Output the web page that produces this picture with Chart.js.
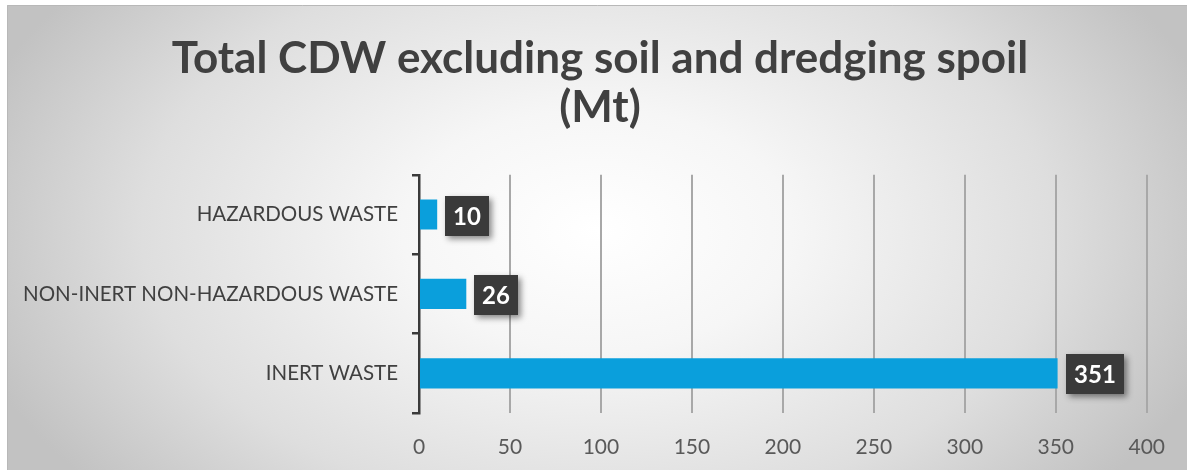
<!DOCTYPE html>
<html>
<head>
<meta charset="utf-8">
<script src="https://cdn.jsdelivr.net/npm/chart.js@4.4.1/dist/chart.umd.min.js"></script>
<style>
  html, body { margin: 0; padding: 0; background: #ffffff; overflow: hidden; }
  #wrap { width: 1187px; height: 470px; position: relative; }
</style>
</head>
<body>
<div id="wrap"><canvas id="chart" width="1187" height="470"></canvas></div>
<script>
// Waste streams (top to bottom) and their tonnage in Mt
const categories = ['HAZARDOUS WASTE', 'NON-INERT NON-HAZARDOUS WASTE', 'INERT WASTE'];
const values = [10, 26, 351];
const xTickValues = [0, 50, 100, 150, 200, 250, 300, 350, 400];
const titleLines = ['Total CDW excluding soil and dredging spoil', '(Mt)'];

const FONT = 'Lato, "Open Sans", sans-serif';

// Framed panel with a soft radial grey fill
const panelBackground = {
  id: 'panelBackground',
  beforeDraw(chart) {
    const ctx = chart.ctx;
    const W = chart.width, H = chart.height;
    const x0 = 7, y0 = 5;
    ctx.save();
    ctx.fillStyle = '#ffffff';
    ctx.fillRect(0, 0, W, H);
    const cx = 597, cy = 230;
    const sy = 0.62;
    ctx.beginPath();
    ctx.rect(x0, y0, W - x0, H - y0);
    ctx.clip();
    ctx.translate(cx, cy);
    ctx.scale(1, sy);
    const g = ctx.createRadialGradient(0, 0, 0, 0, 0, 650);
    g.addColorStop(0, '#ffffff');
    g.addColorStop(0.3, '#f6f6f6');
    g.addColorStop(0.7, '#dedede');
    g.addColorStop(1, '#c2c2c2');
    ctx.fillStyle = g;
    ctx.fillRect(-cx, -cy / sy - 10, W + 20, (H + 20) / sy);
    ctx.restore();
    ctx.save();
    ctx.strokeStyle = '#b8b8b8';
    ctx.lineWidth = 1;
    ctx.beginPath();
    ctx.moveTo(x0 + 0.5, H);
    ctx.lineTo(x0 + 0.5, y0 + 0.5);
    ctx.lineTo(W, y0 + 0.5);
    ctx.stroke();
    ctx.restore();
  }
};

// Dark value boxes placed just past the end of each bar
const valueBoxes = {
  id: 'valueBoxes',
  afterDatasetsDraw(chart) {
    const ctx = chart.ctx;
    const meta = chart.getDatasetMeta(0);
    const data = chart.data.datasets[0].data;
    ctx.save();
    ctx.font = 'bold 24px ' + FONT;
    meta.data.forEach((bar, i) => {
      const label = String(data[i]);
      const tw = ctx.measureText(label).width;
      const w = Math.round(tw + 16);
      const h = 40;
      const bx = Math.round(bar.x + 8);
      const by = Math.round(bar.y - h / 2 + 1);
      ctx.save();
      ctx.shadowColor = 'rgba(0,0,0,0.45)';
      ctx.shadowBlur = 6;
      ctx.shadowOffsetX = 3;
      ctx.shadowOffsetY = 3;
      ctx.fillStyle = '#3a3a3a';
      ctx.fillRect(bx, by, w, h);
      ctx.restore();
      ctx.fillStyle = '#ffffff';
      ctx.textAlign = 'center';
      ctx.textBaseline = 'middle';
      ctx.fillText(label, bx + w / 2, by + h / 2 + 1);
    });
    ctx.restore();
  }
};

new Chart(document.getElementById('chart'), {
  type: 'bar',
  data: {
    labels: categories,
    datasets: [{
      data: values,
      backgroundColor: '#0a9fdc',
      borderWidth: 0,
      barPercentage: 0.38,
      categoryPercentage: 1
    }]
  },
  options: {
    indexAxis: 'y',
    responsive: false,
    animation: false,
    devicePixelRatio: 1,
    layout: { padding: { left: 53, top: 5, right: 40, bottom: 1 } },
    plugins: {
      legend: { display: false },
      tooltip: { enabled: false },
      title: {
        display: true,
        text: titleLines,
        color: '#404040',
        font: { family: FONT, weight: 'bold', size: 44, lineHeight: 1.1 },
        padding: { top: 30, bottom: 43 }
      }
    },
    scales: {
      x: {
        type: 'linear',
        min: 0,
        max: 400,
        afterBuildTicks(scale) { scale.ticks = xTickValues.map(v => ({ value: v })); },
        afterFit(scale) { scale.height = 56; },
        border: { display: false },
        grid: {
          drawTicks: false,
          lineWidth: 2,
          color: c => (c.tick && c.tick.value === 0 ? 'rgba(0,0,0,0)' : '#a8a8a8')
        },
        ticks: {
          color: '#595959',
          padding: 22,
          font: { family: FONT, size: 21 }
        }
      },
      y: {
        type: 'category',
        afterFit(scale) {
          scale.width = 366;
          // long category names may run past the axis box into the left margin
          scale._computeLabelArea = () => undefined;
        },
        border: { display: true, color: '#3a3a3a', width: 2.5 },
        grid: {
          offset: true,
          drawOnChartArea: false,
          drawTicks: true,
          tickLength: 7,
          color: '#3a3a3a',
          lineWidth: 2.5
        },
        ticks: {
          color: '#404040',
          padding: 14,
          font: { family: FONT, size: 20.5 }
        }
      }
    }
  },
  plugins: [panelBackground, valueBoxes]
});
</script>
</body>
</html>
